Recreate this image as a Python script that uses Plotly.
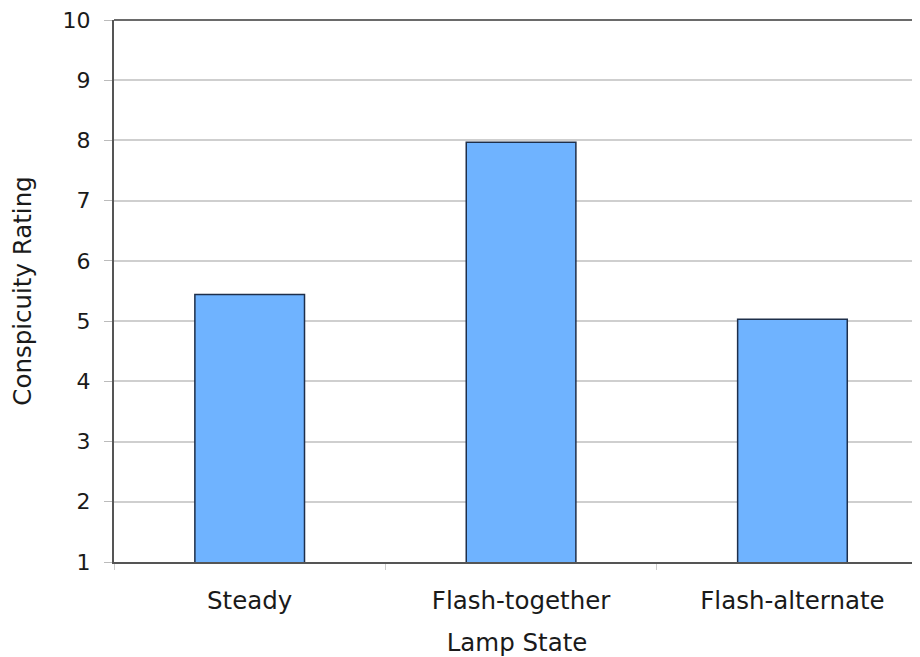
import plotly.graph_objects as go

categories = ["Steady", "Flash-together", "Flash-alternate"]
ratings = [5.44, 7.97, 5.03]
y_ticks = [1, 2, 3, 4, 5, 6, 7, 8, 9, 10]

FONT = "Verdana, DejaVu Sans, sans-serif"

fig = go.Figure(
    go.Bar(
        x=categories,
        y=ratings,
        base=0,
        width=0.404,
        marker=dict(color="#6FB3FF", line=dict(color="#1e2f4a", width=1.5)),
    )
)

fig.update_layout(
    width=912,
    height=649,
    margin=dict(l=104, r=0, t=11, b=95),
    paper_bgcolor="white",
    plot_bgcolor="white",
    showlegend=False,
    font=dict(family=FONT, size=23, color="#1a1a1a"),
    shapes=[
        dict(type="line", xref="paper", yref="paper", x0=0, x1=1, y0=1, y1=1,
             line=dict(color="#6a6a6a", width=2)),
    ],
)

fig.update_xaxes(
    range=[-0.5, 2.47],
    showline=True,
    linecolor="#555555",
    linewidth=1.5,
    ticks="outside",
    tickson="boundaries",
    ticklen=6,
    tickcolor="#cccccc",
    showgrid=False,
    ticklabelstandoff=16,
    ticklabeloverflow="allow",
    title=dict(text="Lamp State", standoff=20, font=dict(size=24.5)),
    tickfont=dict(size=24.5),
)

fig.update_yaxes(
    range=[1, 10],
    tickvals=y_ticks,
    showline=True,
    linecolor="#555555",
    linewidth=2,
    ticks="outside",
    ticklen=8,
    tickcolor="#bbbbbb",
    showgrid=True,
    gridcolor="#cfcfcf",
    gridwidth=1.5,
    zeroline=False,
    ticklabelstandoff=9,
    ticklabeloverflow="allow",
    title=dict(text="Conspicuity Rating", standoff=37, font=dict(size=24.5)),
    tickfont=dict(size=22),
)

fig.write_html("out.html")
